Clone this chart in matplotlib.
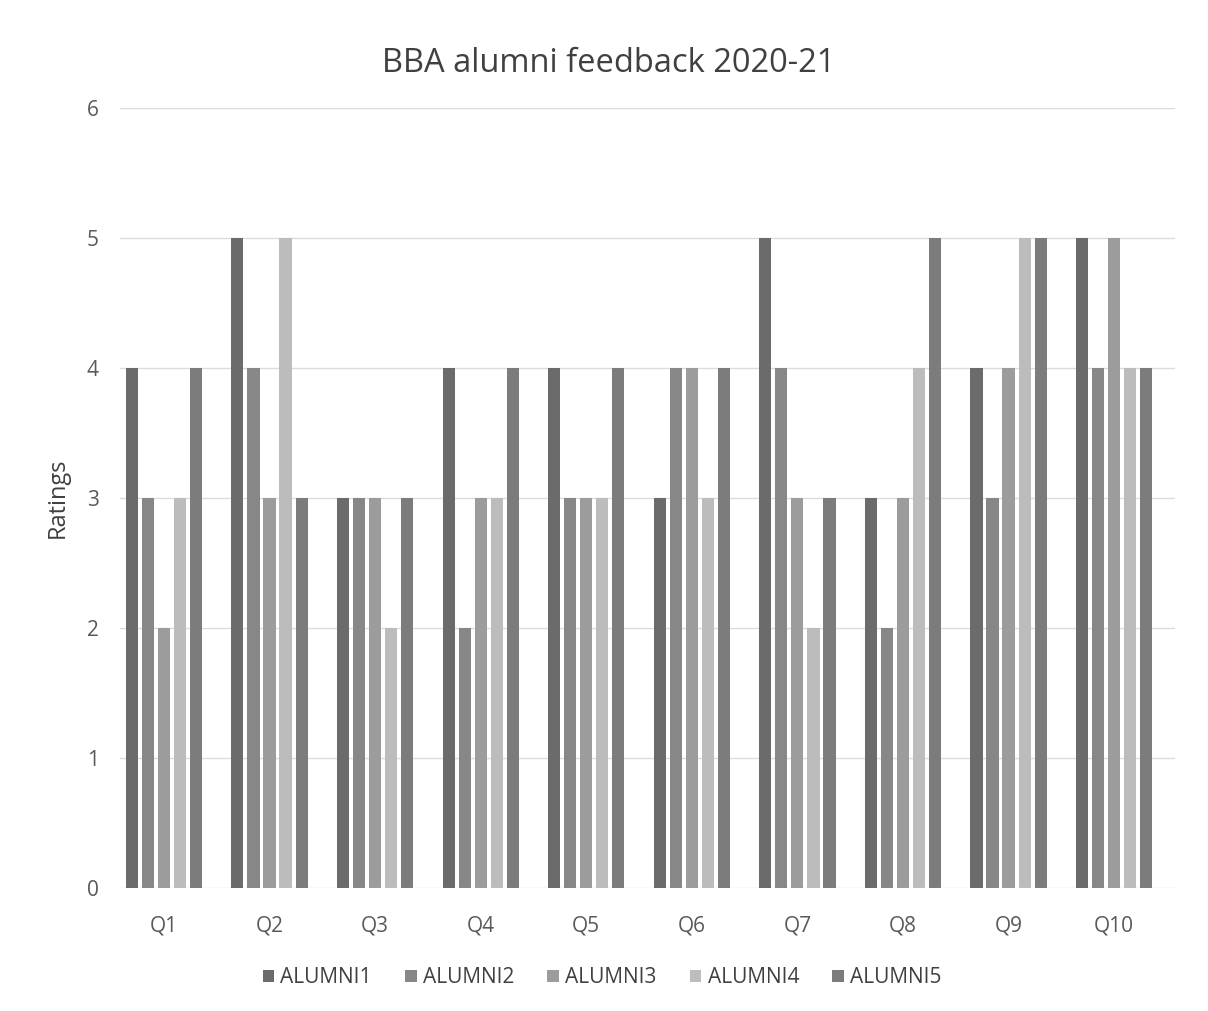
import numpy as np
import matplotlib.pyplot as plt

questions = ["Q1", "Q2", "Q3", "Q4", "Q5", "Q6", "Q7", "Q8", "Q9", "Q10"]
series_names = ["ALUMNI1", "ALUMNI2", "ALUMNI3", "ALUMNI4", "ALUMNI5"]
alumni1 = [4, 5, 3, 4, 4, 3, 5, 3, 4, 5]
alumni2 = [3, 4, 3, 2, 3, 4, 4, 2, 3, 4]
alumni3 = [2, 3, 3, 3, 3, 4, 3, 3, 4, 5]
alumni4 = [3, 5, 2, 3, 3, 3, 2, 4, 5, 4]
alumni5 = [4, 3, 3, 4, 4, 4, 3, 5, 5, 4]

colors = ["#6b6b6b", "#878787", "#9c9c9c", "#bcbcbc", "#7c7c7c"]
plt.rcParams['font.family'] = ['Open Sans', 'DejaVu Sans']

fig = plt.figure(figsize=(12.08, 10.11), dpi=100)
ax = fig.add_axes([0.099, 0.122, 0.874, 0.771])

x = np.arange(len(questions))
pitch = 0.152
width = 0.115
for j, vals in enumerate([alumni1, alumni2, alumni3, alumni4, alumni5]):
    ax.bar(x + (j - 2) * pitch, vals, width, color=colors[j], label=series_names[j], zorder=3)

ax.set_ylim(0, 6)
ax.set_xlim(-0.42, 9.58)
ax.set_yticks(range(0, 7))
ax.set_xticks(x)
ax.set_xticklabels(questions)
ax.grid(axis='y', color='#dcdcdc', linewidth=1, zorder=0)
for s in ax.spines.values():
    s.set_visible(False)
ax.tick_params(axis='both', length=0, colors='#595959', labelsize=15)
ax.tick_params(axis='y', pad=15)
ax.tick_params(axis='x', pad=20)
ax.set_ylabel('Ratings', fontsize=17, color='#404040', labelpad=12)
ax.set_title('BBA alumni feedback 2020-21', fontsize=23.5, color='#404040', pad=26, x=0.463)

ax.legend(loc='upper center', bbox_to_anchor=(0.457, -0.078), ncol=5, frameon=False,
          fontsize=15, handlelength=0.55, handleheight=0.55, columnspacing=1.6,
          handletextpad=0.3, labelcolor='#404040')

fig.savefig('out.png', dpi=100)
